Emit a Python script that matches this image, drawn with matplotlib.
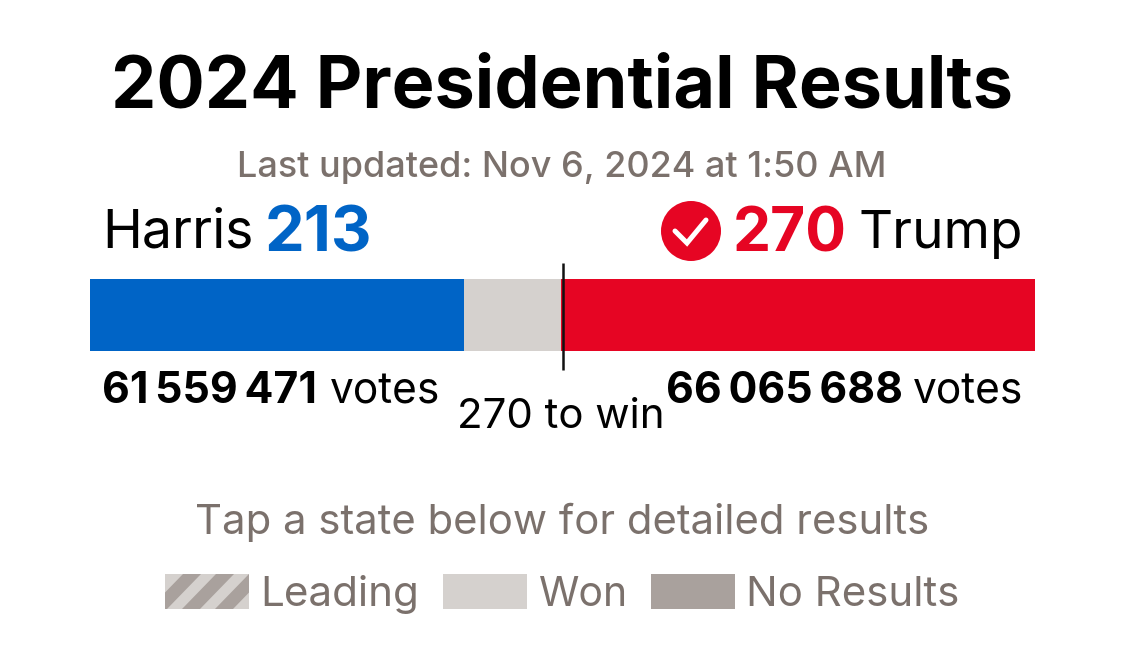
import matplotlib
matplotlib.use("Agg")
import matplotlib.pyplot as plt
from matplotlib.patches import Rectangle, Circle, Polygon
from matplotlib.lines import Line2D

plt.rcParams['font.family'] = ['Inter', 'DejaVu Sans']

# Data
candidates = ["Harris", "Undecided", "Trump"]
electoral_votes = [213, 55, 270]
total_votes = 538
threshold_at = 269
threshold_label = "270 to win"
harris_votes = "61\u2009559\u2009471"
trump_votes = "66\u2009065\u2009688"
legend_labels = ["Leading", "Won", "No Results"]

BLUE, GRAY, RED = "#0064C6", "#D5D1CE", "#E60523"
DARK = "#A9A19D"
TXT = "#7B716C"

W, H = 1125, 660
fig = plt.figure(figsize=(W / 100, H / 100), dpi=100, facecolor="white")

# pixel overlay for text and decorations
ov = fig.add_axes([0, 0, 1, 1], zorder=3)
ov.set_xlim(0, W); ov.set_ylim(H, 0); ov.axis("off"); ov.patch.set_alpha(0)

# stacked bar
ax = fig.add_axes([90 / W, 1 - 351 / H, 945 / W, 72 / H], zorder=1)
left = 0
for v, c in zip(electoral_votes, [BLUE, GRAY, RED]):
    ax.barh(0, v, left=left, height=1, color=c, linewidth=0)
    left += v
ax.set_xlim(0, total_votes); ax.set_ylim(-0.5, 0.5); ax.axis("off")
ax.plot([threshold_at, threshold_at], [-0.764, 0.722], color="#111111", lw=1.8,
        clip_on=False, zorder=5, solid_capstyle="butt")


def T(x, y, s, size, color="black", weight="normal", ha="left"):
    return ov.text(x, y, s, fontsize=size * 0.72, color=color, fontweight=weight,
                   ha=ha, va="baseline")


T(562, 107, "2024 Presidential Results", 72, weight="bold", ha="center")
T(562, 177, "Last updated: Nov 6, 2024 at 1:50 AM", 36, color=TXT, ha="center", weight=500)

# headline
T(102, 248, candidates[0], 53.5)
T(265, 251, str(electoral_votes[0]), 63, color=BLUE, weight="bold")
T(1023, 248, candidates[2], 53, ha="right")
T(847, 251, str(electoral_votes[2]), 60.5, color=RED, weight="bold", ha="right")
ov.add_patch(Circle((691, 231), 30, color=RED, lw=0))
ov.add_line(Line2D([675, 687, 706], [231, 243, 220], color="white", lw=3.6,
                   solid_capstyle="round", solid_joinstyle="miter"))

# votes
T(102, 403, harris_votes, 42.8, weight="bold")
T(440, 403, "votes", 42.4, ha="right")
T(666, 403, trump_votes, 42.8, weight="bold")
T(1023, 403, "votes", 42.4, ha="right")
T(561, 428, threshold_label, 42, ha="center")

T(562, 534, "Tap a state below for detailed results", 41.8, color=TXT, ha="center")

# legend
y0, y1 = 574, 609
ov.add_patch(Rectangle((165, y0), 84, y1 - y0, color=GRAY, lw=0))
clip = Rectangle((165, y0), 84, y1 - y0, transform=ov.transData)
for x in [149, 182, 215]:
    p = Polygon([(x, y1), (x + 34, y0), (x + 52, y0), (x + 18, y1)], color=DARK, lw=0)
    ov.add_patch(p)
    p.set_clip_path(clip)
T(260, 606, legend_labels[0], 42.2, color=TXT)
ov.add_patch(Rectangle((443, y0), 84, y1 - y0, color=GRAY, lw=0))
T(539, 606, legend_labels[1], 41, color=TXT)
ov.add_patch(Rectangle((651, y0), 84, y1 - y0, color=DARK, lw=0))
T(746, 606, legend_labels[2], 42, color=TXT)

fig.savefig("out.png", dpi=100, facecolor="white")
